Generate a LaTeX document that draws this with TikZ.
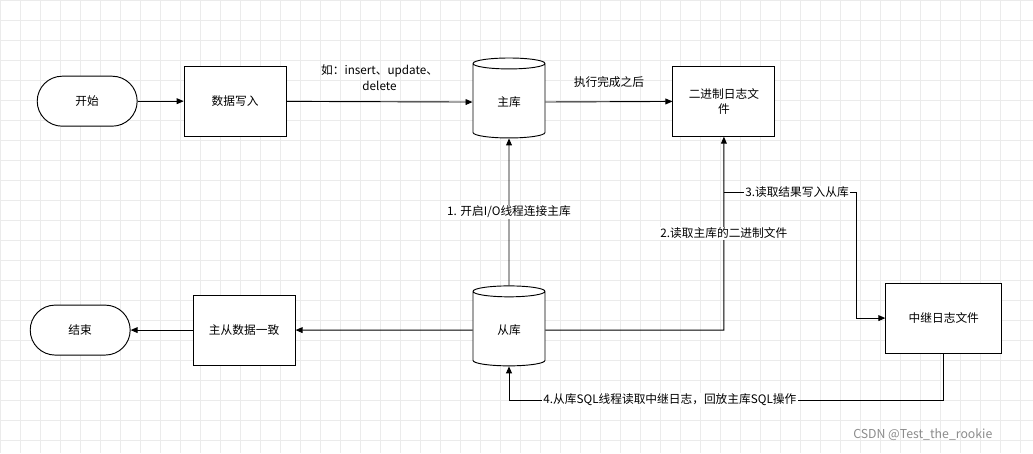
\documentclass[tikz,border=0pt]{standalone}
\usepackage{fontspec}
\setmainfont{Noto Sans CJK SC}
\usetikzlibrary{shapes.geometric,arrows.meta}
\begin{document}
\begin{tikzpicture}[x=0.03cm,y=-0.03cm,font=\fontsize{10}{13}\selectfont,
  box/.style={draw,thick,minimum width=3.06cm,minimum height=2.1cm,align=center,fill=white},
  term/.style={draw,thick,rounded corners=0.75cm,minimum width=3cm,minimum height=1.5cm,fill=white},
  db/.style={draw,thick,cylinder,shape border rotate=90,aspect=0.35,minimum width=2.16cm,minimum height=2.4cm,fill=white},
  arr/.style={thick,-{Triangle[length=6pt,width=5pt]}},
  lbl/.style={fill=white,inner sep=1pt,align=center}]
\fill[white] (0,0) rectangle (1033,453);
\foreach \i in {0,20,...,1033} \draw[black!8] (\i,0) -- (\i,453);
\foreach \j in {0,20,...,453} \draw[black!8] (0,\j) -- (1033,\j);
\useasboundingbox (0,0) rectangle (1033,453);
\node[term] (start) at (87,101) {开始};
\node[box] (write) at (235,101) {数据写入};
\node[db] (master) at (509,102) {主库};
\node[box] (binlog) at (724,101) {二进制日志文\\件};
\node[db] (slave) at (509,330) {从库};
\node[box] (same) at (244,330) {主从数据一致};
\node[term] (end) at (80,330) {结束};
\node[box,minimum width=3.48cm] (relay) at (944,318) {中继日志文件};
\draw[arr] (start) -- (write);
\draw[arr] (write) -- node[above=6pt,align=center]{如：insert、update、\\ delete} (master);
\draw[arr] (master) -- node[above=8pt]{执行完成之后} (binlog);
\draw[arr] (slave) -- node[lbl]{1. 开启I/O线程连接主库} (master);
\coordinate (c2) at (724,330);
\draw[arr] (slave.east) -- (c2) -- node[lbl,pos=0.5]{2.读取主库的二进制文件} (binlog);
\coordinate (c3a) at (724,192);
\coordinate (c3b) at (857,192);
\coordinate (c3c) at (857,318);
\draw[arr] (c3a) -- node[lbl,pos=0.55]{3.读取结果写入从库} (c3b) -- (c3c) -- (relay);
\draw[arr] (slave) -- (same);
\draw[arr] (same) -- (end);
\coordinate (c4a) at (944,400);
\coordinate (c4b) at (509,400);
\draw[arr] (relay) -- (c4a) -- node[lbl,pos=0.63]{4.从库SQL线程读取中继日志，回放主库SQL操作} (c4b) -- (slave);
\node[text=black!45,font=\fontsize{10.5}{12}\selectfont] at (923,435) {CSDN @Test\_the\_rookie};
\end{tikzpicture}
\end{document}
